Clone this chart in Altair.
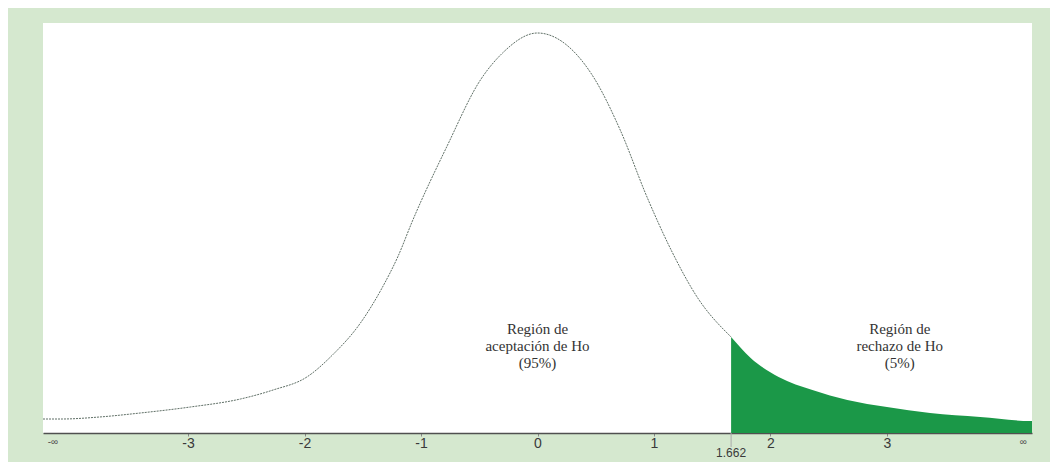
import altair as alt
import pandas as pd

# Curve (x in t units, density-like height)
curve_x = [-4.245, -4.08, -3.76, -3.41, -2.98, -2.55, -2.27, -1.98, -1.76, -1.52,
           -1.33, -1.20, -1.07, -0.78, -0.49, -0.30, 0.0, 0.25, 0.48, 0.71,
           0.94, 1.16, 1.37, 1.662, 1.83, 2.07, 2.36, 2.66, 3.0, 3.37,
           3.80, 4.23, 4.245]
curve_y = [0.014, 0.014, 0.016, 0.020, 0.026, 0.034, 0.043, 0.056, 0.078, 0.110,
           0.146, 0.176, 0.213, 0.286, 0.353, 0.380, 0.400, 0.388, 0.356, 0.303,
           0.236, 0.180, 0.136, 0.096, 0.075, 0.056, 0.043, 0.033, 0.026, 0.020,
           0.016, 0.012, 0.012]
critical_value = 1.662
critical_label = ["1.662"]
tick_values = [-3, -2, -1, 0, 1, 2, 3]
inf_x = [-4.16, 4.17]
inf_labels = ["-∞", "∞"]
ann_x = [0.0, 3.11]
ann_y = [0.104, 0.104]
ann_text = ["Región de\naceptación de Ho\n(95%)", "Región de\nrechazo de Ho\n(5%)"]

df = pd.DataFrame({"x": curve_x, "y": curve_y})
left = df[df.x <= critical_value]
right = df[df.x >= critical_value]
crit_df = pd.DataFrame({"x": [critical_value], "label": critical_label})
inf_df = pd.DataFrame({"x": inf_x, "label": inf_labels})
ann_df = pd.DataFrame({"x": ann_x, "y": ann_y, "label": ann_text})

xscale = alt.Scale(domain=[-4.245, 4.245], nice=False, zero=False)
yscale = alt.Scale(domain=[0, 0.41], nice=False, zero=True)
xaxis = alt.Axis(values=tick_values, labelExpr="'' + datum.value", title=None, grid=False,
                 domainColor="#505050", domainWidth=1.6, tickSize=3,
                 tickColor="#888888", labelFontSize=14, labelFont="Liberation Sans",
                 labelColor="#3a3a3a", labelPadding=0, labelFlush=False)
X = alt.X("x:Q", scale=xscale, axis=xaxis)
Y = alt.Y("y:Q", scale=yscale, axis=None)

area = alt.Chart(right).mark_area(color="#1b9848", interpolate="monotone").encode(x=X, y=Y)
line = alt.Chart(left).mark_line(color="#5f6f66", strokeWidth=1, strokeDash=[2, 1],
                                 interpolate="monotone").encode(x=X, y=Y)
tick = alt.Chart(crit_df).mark_rule(color="#aaaaaa", strokeWidth=1).encode(
    x=X, y=alt.value(410), y2=alt.value(424))
crit_text = alt.Chart(crit_df).mark_text(font="Liberation Sans", fontSize=12,
                                         color="#3a3a3a", baseline="middle").encode(
    x=X, y=alt.value(430), text="label:N")
inf_text = alt.Chart(inf_df).mark_text(font="Liberation Sans", fontSize=10,
                                       color="#555555", baseline="middle").encode(
    x=X, y=alt.value(419), text="label:N")
ann = alt.Chart(ann_df).mark_text(font="Liberation Serif", fontSize=15, lineHeight=17,
                                  lineBreak="\n", color="#333333", baseline="middle").encode(
    x=X, y=Y, text="label:N")

chart = alt.layer(area, line, tick, crit_text, inf_text, ann).properties(
    width=989, height=410,
    autosize=alt.AutoSizeParams(type="none"),
    padding={"left": 35, "top": 15, "right": 18, "bottom": 29},
    background="#d5e8cf",
).configure_view(stroke=None, fill="white")

chart.save("out.html", embed_options={"renderer": "svg", "actions": False})
